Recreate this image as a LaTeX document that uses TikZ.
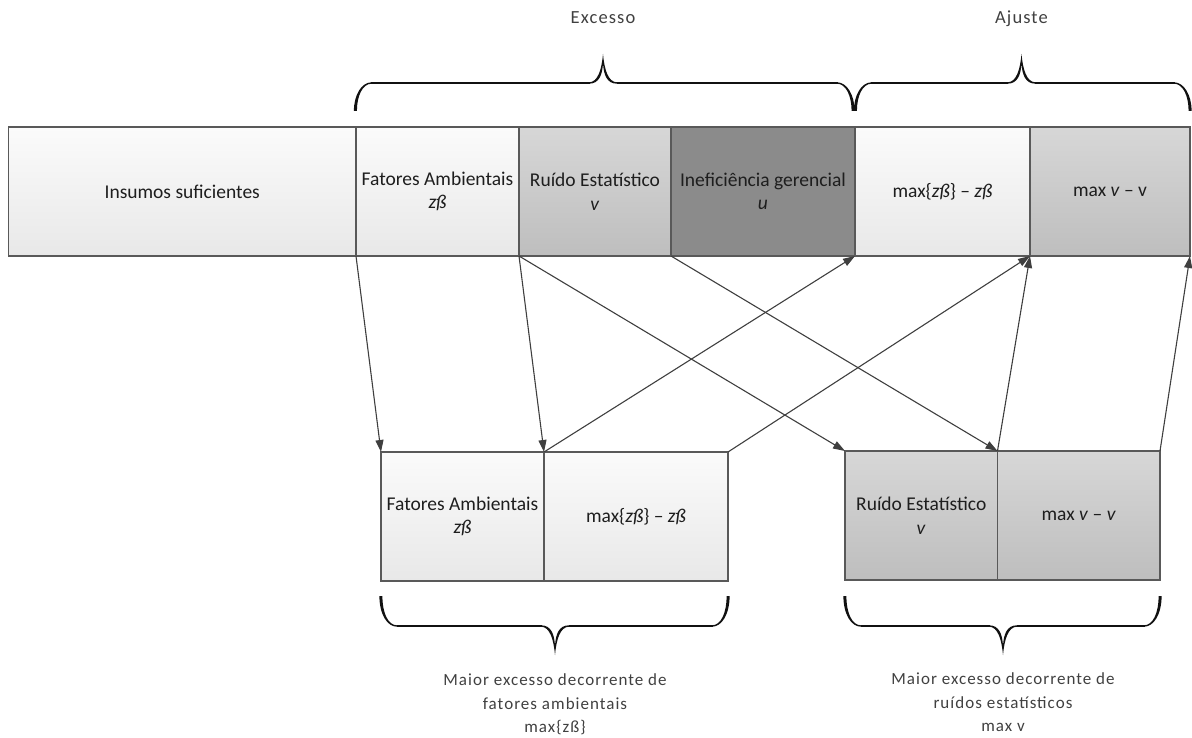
\documentclass[tikz,border=0pt]{standalone}
\usepackage{fontspec}
\setmainfont{Carlito}
\newfontfamily\lightfont[LetterSpace=6]{Carlito}
\usetikzlibrary{arrows.meta}

\definecolor{boxline}{HTML}{595959}
\definecolor{boxtext}{HTML}{1E1E1E}
\definecolor{labeltext}{HTML}{404040}
\definecolor{lighttop}{HTML}{FBFBFB}
\definecolor{lightbot}{HTML}{E8E8E8}
\definecolor{midtop}{HTML}{D7D7D7}
\definecolor{midbot}{HTML}{BEBEBE}
\definecolor{darkfill}{HTML}{8B8B8B}
\definecolor{arrowcol}{HTML}{3F3F3F}
\definecolor{bracecol}{HTML}{111111}

% Curly brace with tapered hooks and tip.
% #1 left end x, #2 right end x, #3 tip x, #4 end y, #5 middle y, #6 tip y,
% #7 = +1 when the tip points up, -1 when it points down
\newcommand\drawbrace[7]{%
  \fill[bracecol]
    ({#1-1.6},{#4}) .. controls ({#1-1.6},{#5+(#7)*12}) and ({#1+6},{#5-(#7)*0.7}) .. ({#1+16},{#5-(#7)*0.7})
    -- ({#1+16},{#5+(#7)*0.7}) .. controls ({#1+7},{#5+(#7)*0.7}) and ({#1+1.4},{#5+(#7)*13}) .. ({#1+1.4},{#4}) -- cycle;
  \fill[bracecol]
    ({#2+1.6},{#4}) .. controls ({#2+1.6},{#5+(#7)*12}) and ({#2-6},{#5-(#7)*0.7}) .. ({#2-16},{#5-(#7)*0.7})
    -- ({#2-16},{#5+(#7)*0.7}) .. controls ({#2-7},{#5+(#7)*0.7}) and ({#2-1.4},{#5+(#7)*13}) .. ({#2-1.4},{#4}) -- cycle;
  \fill[bracecol]
    ({#3-14},{#5-(#7)*0.7}) .. controls ({#3-5},{#5-(#7)*0.7}) and ({#3-1.3},{#5-(#7)*14}) .. ({#3},{#6})
    .. controls ({#3+1.3},{#5-(#7)*14}) and ({#3+5},{#5-(#7)*0.7}) .. ({#3+14},{#5-(#7)*0.7})
    -- ({#3+14},{#5+(#7)*0.7}) .. controls ({#3+4},{#5+(#7)*0.7}) and ({#3+0.6},{#5-(#7)*8}) .. ({#3},{#6+(#7)*9})
    .. controls ({#3-0.6},{#5-(#7)*8}) and ({#3-4},{#5+(#7)*0.7}) .. ({#3-14},{#5+(#7)*0.7}) -- cycle;
  \draw[bracecol, line width=1.4pt] ({#1+15.5},{#5}) -- ({#3-13.5},{#5}) ({#3+13.5},{#5}) -- ({#2-15.5},{#5});
}

\tikzset{
  cell/.style={draw=boxline, line width=1.6pt, inner sep=0pt, outer sep=0pt,
    minimum height=129pt, align=center, text=boxtext,
    font=\fontsize{19.5}{23.5}\selectfont},
  lightcell/.style={cell, top color=lighttop, bottom color=lightbot},
  midcell/.style={cell, top color=midtop, bottom color=midbot},
  darkcell/.style={cell, fill=darkfill},
  link/.style={draw=arrowcol, line width=1.1pt, -{Triangle[length=12pt,width=8pt]}},
  toplabel/.style={text=labeltext, anchor=base, inner sep=0pt,
    font=\lightfont\fontsize{18.5}{22}\selectfont},
  % the base anchor of a multi-line note sits on its last line
  bottomlabel/.style={text=labeltext, align=center, anchor=base, inner sep=0pt,
    font=\lightfont\fontsize{17}{23.3}\selectfont},
}

\begin{document}
\begin{tikzpicture}[x=1pt,y=-1pt]
\useasboundingbox (0,0) rectangle (1192,738);

% upper bar
\node[lightcell, minimum width=347.5pt] (ins) at (182.25,191.5) {Insumos suficientes};
\node[lightcell, minimum width=163pt] (fa) at (437.5,191.5) {Fatores Ambientais\\\textit{zß}};
\node[midcell, minimum width=152pt] (rs) at (595,191.5) {Ruído Estatístico\\\textit{v}};
\node[darkcell, minimum width=184pt] (ig) at (763,191.5) {Ineficiência gerencial\\\textit{u}};
\node[lightcell, minimum width=175pt] (mz) at (942.5,191.5) {max\{\textit{zß}\} – \textit{zß}};
\node[midcell, minimum width=160pt] (mv) at (1110,191.5) {max \textit{v} – v};

% lower bars
\node[lightcell, minimum width=163pt] (bfa) at (462.5,516.5) {Fatores Ambientais\\\textit{zß}};
\node[lightcell, minimum width=184pt] (bmz) at (636,516.5) {max\{\textit{zß}\} – \textit{zß}};
\node[midcell, minimum width=152.5pt] (brs) at (921.25,515.5) {Ruído Estatístico\\\textit{v}};
\node[midcell, minimum width=162.5pt] (bmv) at (1078.75,515.5) {max \textit{v} – \textit{v}};

% braces
\drawbrace{355.5}{853}{603}{111}{83}{54}{1}
\drawbrace{855.5}{1190}{1021.5}{111}{83}{54}{1}
\drawbrace{381}{728}{555}{596}{626}{655}{-1}
\drawbrace{845}{1160}{1003}{596}{626}{655}{-1}

% labels
\node[toplabel] (exc) at (603,24) {Excesso};
\node[toplabel] (aju) at (1021.5,24) {Ajuste};
\node[bottomlabel] (notez) at (555,732.5) {Maior excesso decorrente de\\fatores ambientais\\max\{zß\}};
\node[bottomlabel] (notev) at (1003,731.5) {Maior excesso decorrente de\\ruídos estatísticos\\max v};

% connectors
\draw[link] (fa.south west) -- (bfa.north west);
\draw[link] (rs.south west) -- (bfa.north east);
\draw[link] (rs.south west) -- (brs.north west);
\draw[link] (ig.south west) -- (brs.north east);
\draw[link] (bfa.north east) -- (ig.south east);
\draw[link] (bmz.north east) -- (mz.south east);
\draw[link] (brs.north east) -- (mz.south east);
\draw[link] (bmv.north east) -- (mv.south east);
\end{tikzpicture}
\end{document}
